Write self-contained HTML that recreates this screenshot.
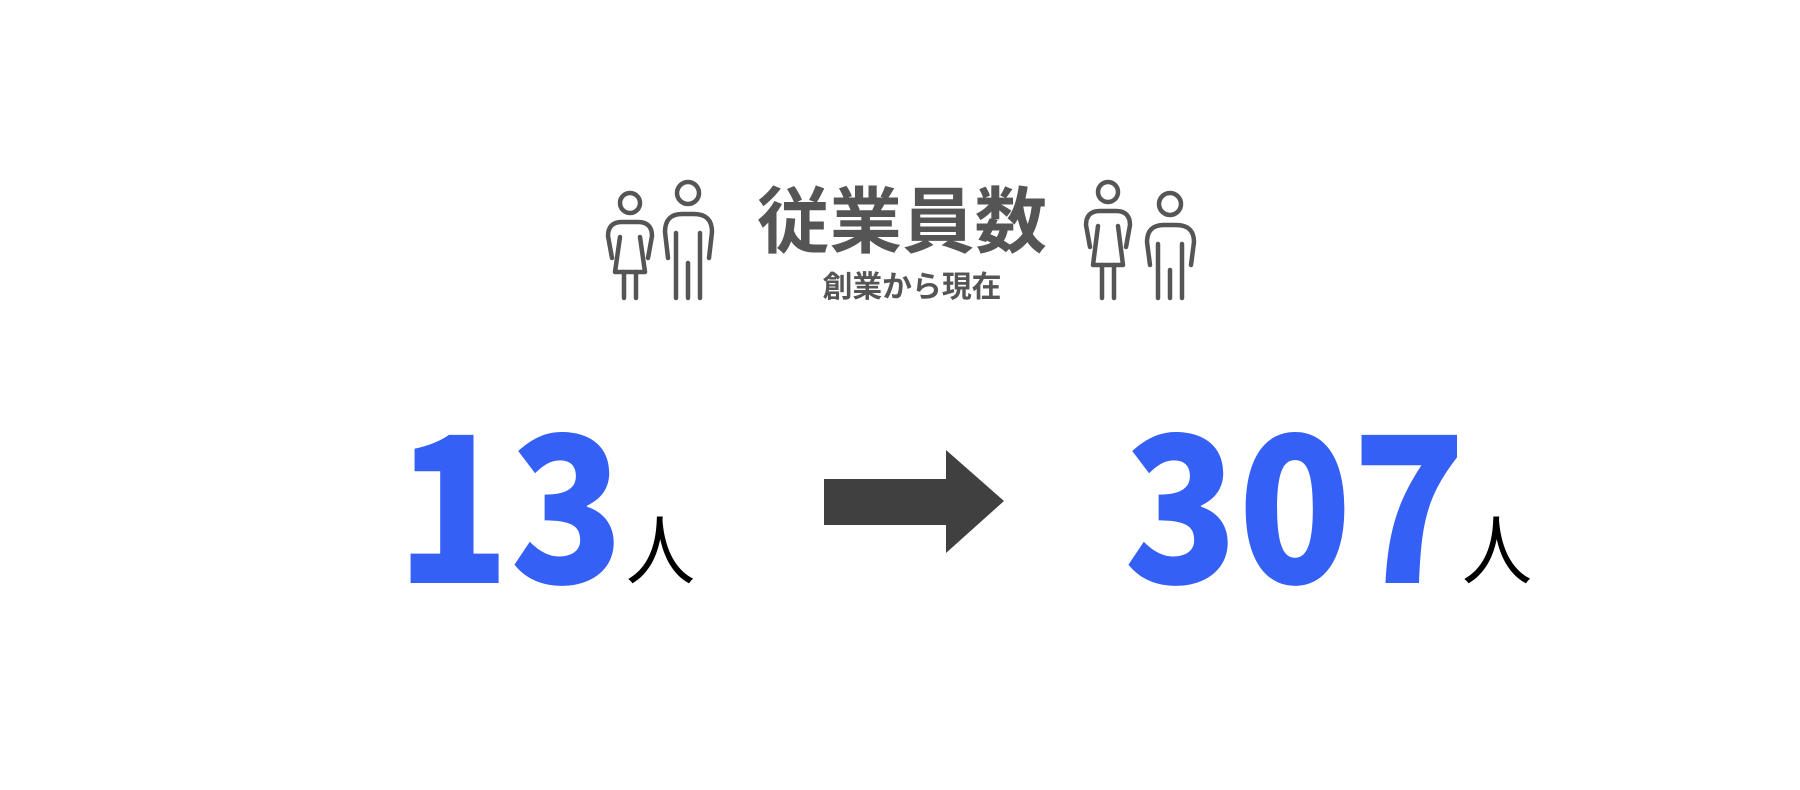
<!DOCTYPE html>
<html><head><meta charset="utf-8"><style>
html,body{margin:0;padding:0;background:#fff;width:1800px;height:790px;overflow:hidden}
svg{display:block}
</style></head><body>
<svg width="1800" height="790" viewBox="0 0 1800 790" xmlns="http://www.w3.org/2000/svg">
<g fill="none" stroke="#555" stroke-width="4.5" stroke-linecap="round" stroke-linejoin="round">
  <g>
    <circle cx="630" cy="203" r="10"/>
    <path d="M612,258 L608,236 Q608,222 622,222 L638,222 Q652,222 652,236 L648,258"/>
    <path d="M620,237 L615,272 L645,272 L640,237"/>
    <path d="M624,272 L624,298 M636,272 L636,298"/>
  </g>
  <g>
    <circle cx="688" cy="193" r="11"/>
    <path d="M668,258 L665,232 Q665,214 682,214 L694,214 Q712,214 712,232 L709,258"/>
    <path d="M676,233 L676,298 M700,233 L700,298 M688,263 L688,298"/>
  </g>
  <g>
    <circle cx="1108" cy="192" r="10"/>
    <path d="M1090,247 L1086,225 Q1086,211 1100,211 L1116,211 Q1130,211 1130,225 L1126,247"/>
    <path d="M1098,226 L1093,265 L1123,265 L1118,226"/>
    <path d="M1102,265 L1102,298 M1114,265 L1114,298"/>
  </g>
  <g>
    <circle cx="1170" cy="204" r="11"/>
    <path d="M1150,265 L1147,242 Q1147,225 1164,225 L1176,225 Q1194,225 1194,242 L1191,265"/>
    <path d="M1158,244 L1158,298 M1182,244 L1182,298 M1170,270 L1170,298"/>
  </g>
</g>
<text x="902" y="247" text-anchor="middle" font-family="'Liberation Sans','Noto Sans CJK JP',sans-serif" font-weight="bold" font-size="72" fill="#555" textLength="290" lengthAdjust="spacingAndGlyphs">従業員数</text>
<text x="912" y="297" text-anchor="middle" font-family="'Liberation Sans','Noto Sans CJK JP',sans-serif" font-weight="bold" font-size="30" fill="#555" textLength="179" lengthAdjust="spacingAndGlyphs">創業から現在</text>

<text x="396" y="583" font-family="'Noto Sans CJK JP',sans-serif" font-weight="900" font-size="204" fill="#3560f5" textLength="228" lengthAdjust="spacingAndGlyphs">13</text>
<text x="626" y="578" font-family="'Liberation Sans','Noto Sans CJK JP',sans-serif" font-size="76" fill="#000" textLength="69" lengthAdjust="spacingAndGlyphs">人</text>

<polygon points="824,479 946,479 946,450 1004,501 946,553 946,525 824,525" fill="#404040"/>

<text x="1124" y="583" font-family="'Noto Sans CJK JP',sans-serif" font-weight="900" font-size="204" fill="#3560f5" textLength="342" lengthAdjust="spacingAndGlyphs">307</text>
<text x="1462" y="578" font-family="'Liberation Sans','Noto Sans CJK JP',sans-serif" font-size="76" fill="#000" textLength="70" lengthAdjust="spacingAndGlyphs">人</text>
</svg>
</body></html>
